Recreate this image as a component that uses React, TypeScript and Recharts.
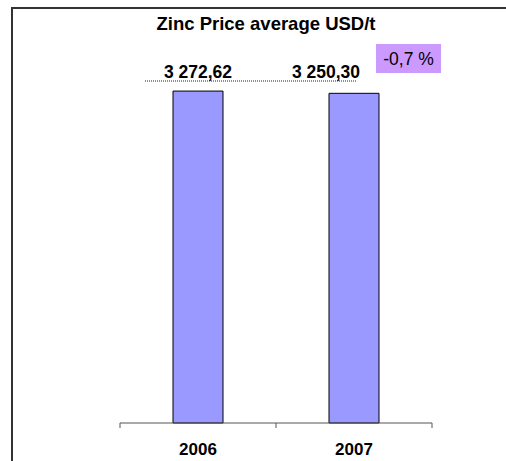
import React from 'react';
import { BarChart, Bar, XAxis, YAxis, LabelList } from 'recharts';

const years = ['2006', '2007'];
const prices = [3272.62, 3250.3];
const priceLabels = ['3 272,62', '3 250,30'];
const changeLabel = '-0,7 %';

const data = years.map((year, i) => ({ year, price: prices[i], label: priceLabels[i] }));

const FONT = '"Liberation Sans", Arial, sans-serif';
const HALF_BAND = 78;

const YearTick = ({ x, y, payload, index }: any) => (
  <g>
    <line x1={x - HALF_BAND} y1={y - 8} x2={x - HALF_BAND} y2={y - 3} stroke="#555" />
    {index === years.length - 1 && (
      <line x1={x + HALF_BAND} y1={y - 8} x2={x + HALF_BAND} y2={y - 3} stroke="#555" />
    )}
    <text x={x} y={y + 24} textAnchor="middle" fontFamily={FONT} fontSize={17} fontWeight="bold" fill="#000">
      {payload.value}
    </text>
  </g>
);

const PriceLabel = ({ x, width, index, value }: any) => {
  const cx = x + width / 2;
  const labelY = 78;
  if (index === 0) {
    return (
      <g>
        <line x1={cx - 53} y1={81} x2={cx + 159} y2={81} stroke="#222" strokeDasharray="1 1" />
        <text x={cx} y={labelY} textAnchor="middle" fontFamily={FONT} fontSize={17.5} fontWeight="bold" fill="#000">
          {value}
        </text>
      </g>
    );
  }
  return (
    <g>
      <text x={cx - 28} y={labelY} textAnchor="middle" fontFamily={FONT} fontSize={17.5} fontWeight="bold" fill="#000">
        {value}
      </text>
      <rect x={x + width - 3} y={44} width={65} height={29} fill="#CC99FF" />
      <text x={x + width + 29.5} y={65} textAnchor="middle" fontFamily={FONT} fontSize={17.5} fill="#000">
        {changeLabel}
      </text>
    </g>
  );
};

export default function App() {
  return (
    <div style={{ position: 'absolute', left: 0, top: 0, width: 506, height: 461, overflow: 'hidden', background: '#fff' }}>
      <div
        style={{
          position: 'absolute',
          left: 11,
          top: 7,
          width: 520,
          height: 480,
          border: '2px solid #333',
          boxSizing: 'border-box',
        }}
      />
      <div
        style={{
          position: 'absolute',
          left: 0,
          top: 15,
          width: 532,
          textAlign: 'center',
          fontFamily: FONT,
          fontSize: 18.5,
          lineHeight: 1,
          fontWeight: 'bold',
          color: '#000',
        }}
      >
        Zinc Price average USD/t
      </div>
      <div style={{ position: 'absolute', left: 0, top: 0 }}>
        <BarChart width={506} height={461} data={data} margin={{ top: 68, right: 74, bottom: 8, left: 120 }} barSize={50}>
          <YAxis hide domain={[0, 3500]} />
          <XAxis
            dataKey="year"
            axisLine={{ stroke: '#555' }}
            tickLine={false}
            tick={<YearTick />}
            height={30}
            interval={0}
          />
          <Bar dataKey="price" fill="#9999FF" stroke="#000" strokeWidth={1} isAnimationActive={false}>
            <LabelList dataKey="label" content={<PriceLabel />} />
          </Bar>
        </BarChart>
      </div>
    </div>
  );
}
